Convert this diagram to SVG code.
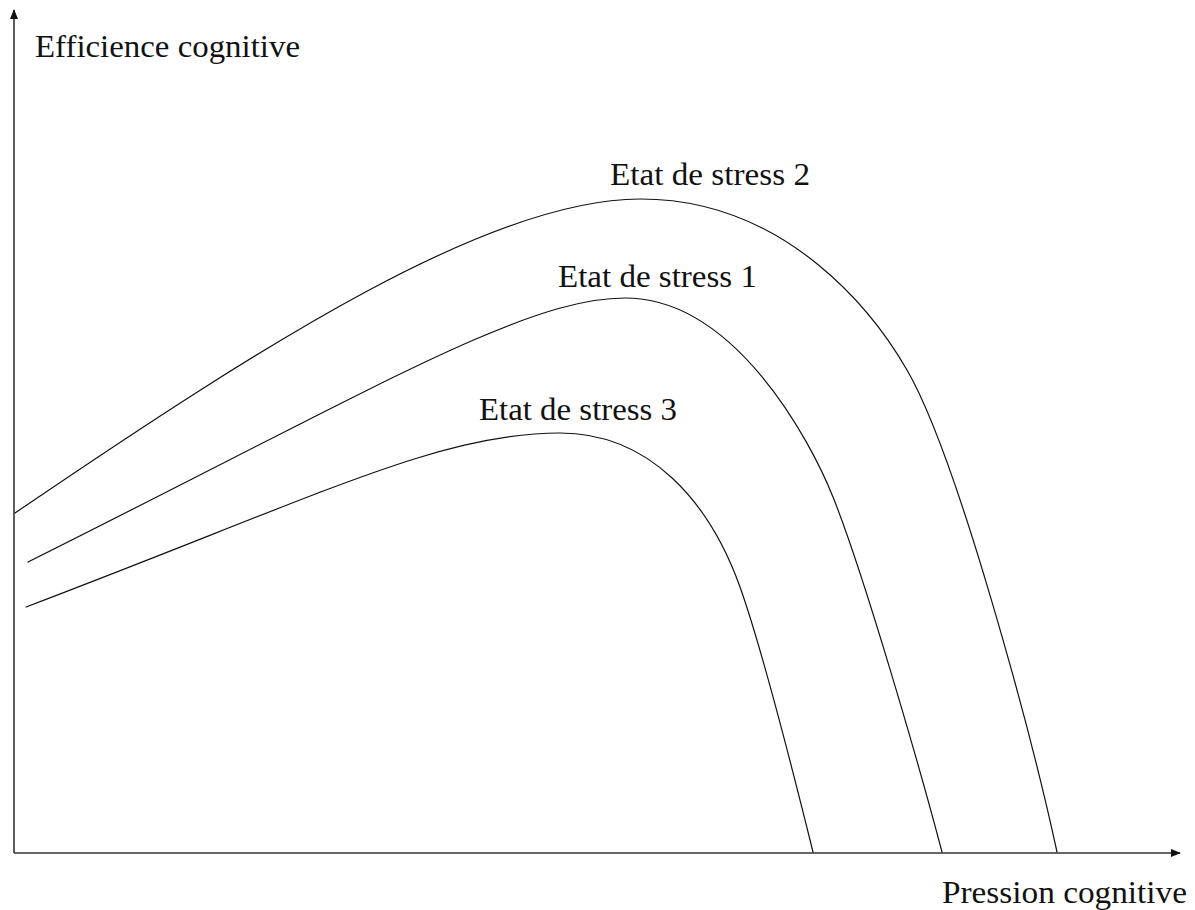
<svg xmlns="http://www.w3.org/2000/svg" width="1195" height="910" viewBox="0 0 1195 910">
<style>
.axis{fill:none;stroke:#333;stroke-width:1.6}
.curve{fill:none;stroke:#111;stroke-width:1.2;stroke-linejoin:round;stroke-linecap:round}
text{font-family:"Liberation Serif","Times New Roman",serif;font-size:31px;fill:#111}
</style>
<defs>
<marker id="arr" viewBox="0 0 10 10" refX="9" refY="5" markerWidth="10" markerHeight="10" markerUnits="userSpaceOnUse" orient="auto">
<path d="M0,1 L10,5 L0,9 Z" fill="#111"/>
</marker>
</defs>
<rect width="1195" height="910" fill="#fff"/>
<g id="axes">
<line class="axis" x1="14" y1="853" x2="14" y2="10" marker-end="url(#arr)"/>
<line class="axis" x1="14" y1="853" x2="1180" y2="853" marker-end="url(#arr)"/>
</g>
<g id="curves">
<path id="stress2" class="curve" d="M15,513 C265,343 490,199 640,199 C790,199 877,318 907,370 C957,456 1031.6,734.8 1057,852"/>
<path id="stress1" class="curve" d="M28,562 C378,387 525,298 625,298 C735,298 810.7,441.3 833,497 C862.7,571.2 916.5,755.3 942,852"/>
<path id="stress3" class="curve" d="M26,607 C326,493 440,433 560,433 C650,433 709.7,502.3 740,587 C760.2,643.5 793.8,774.4 813,852"/>
</g>
<g id="labels">
<text x="35" y="57" textLength="265" lengthAdjust="spacingAndGlyphs">Efficience cognitive</text>
<text x="942" y="903" textLength="245" lengthAdjust="spacingAndGlyphs">Pression cognitive</text>
<text x="610" y="185" textLength="200" lengthAdjust="spacingAndGlyphs">Etat de stress 2</text>
<text x="558" y="287" textLength="199" lengthAdjust="spacingAndGlyphs">Etat de stress 1</text>
<text x="479" y="420" textLength="198" lengthAdjust="spacingAndGlyphs">Etat de stress 3</text>
</g>
</svg>
